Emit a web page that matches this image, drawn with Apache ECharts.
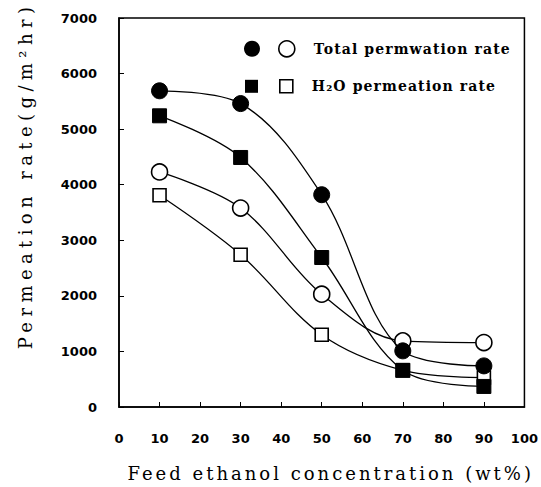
<!DOCTYPE html>
<html>
<head>
<meta charset="utf-8">
<script src="https://cdn.jsdelivr.net/npm/echarts@6/dist/echarts.min.js"></script>
<style>
  html, body { margin: 0; padding: 0; background: #fff; }
  #chart { width: 541px; height: 487px; }
</style>
</head>
<body>
<div id="chart"></div>
<script>
// feed ethanol concentration (wt%)
const feedConc = [10, 30, 50, 70, 90]

// permeation rates (g/m2hr)
const totalFilled = [5690, 5460, 3820, 1010, 740]
const totalOpen = [4230, 3580, 2030, 1190, 1160]
const waterFilled = [5240, 4490, 2690, 660, 370]
const waterOpen = [3810, 2740, 1300, 660, 530]

const xTicks = [0, 10, 20, 30, 40, 50, 60, 70, 80, 90, 100]
const yTicks = [0, 1000, 2000, 3000, 4000, 5000, 6000, 7000]

const xName = 'Feed ethanol concentration (wt%)'
const yName = 'Permeation rate(g/m\u00b2hr)'
const totalLabel = 'Total permwation rate'
const waterLabel = 'H\u2082O permeation rate'

const serif = 'DejaVu Serif'
const sans = 'DejaVu Sans'
const toPairs = (vals) => feedConc.map((x, i) => [x, vals[i]])

const myChart = echarts.init(document.getElementById('chart'), null, { renderer: 'svg' })

// 系列的公共样式
const makeSeries = (name, vals, symbol, size, filled) => ({
  name: name,
  type: 'line',
  data: toPairs(vals),
  smooth: 0.35,
  symbol: symbol,
  symbolSize: size,
  showAllSymbol: true,
  lineStyle: { color: '#000', width: 1.3 },
  itemStyle: filled
    ? { color: '#000', borderColor: '#000', borderWidth: 1 }
    : { color: '#fff', borderColor: '#000', borderWidth: 1.6 },
  emphasis: { disabled: true },
  z: filled ? 3 : 2
})

// 图例：每行一个实心 + 一个空心标记，文字跟在空心后面
const legendText = { fontFamily: serif, fontWeight: 'bold', fontSize: 14, color: '#000', padding: [0, 0, 0, 14] }
const makeLegend = (top, left, size, gap, filledName, openName, icon) => ({
  orient: 'horizontal',
  left: left,
  top: top,
  padding: 0,
  itemGap: gap,
  itemWidth: size,
  itemHeight: size,
  selectedMode: false,
  textStyle: legendText,
  formatter: (n) => n === 'totalOpen' ? totalLabel : n === 'waterOpen' ? waterLabel : '',
  data: [
    { name: filledName, icon: icon, itemStyle: { color: '#000', borderWidth: 0 }, textStyle: { padding: 0 } },
    { name: openName, icon: icon, itemStyle: { color: '#fff', borderColor: '#000', borderWidth: 1.6 } }
  ]
})

const option = {
  backgroundColor: '#fff',
  animation: false,
  grid: {
    left: 119,
    right: 14,
    top: 18,
    bottom: 71,
    show: true,
    borderColor: '#000',
    borderWidth: 1.5,
    backgroundColor: 'transparent'
  },
  legend: [
    makeLegend(40, 244, 16, 18, 'totalFilled', 'totalOpen', 'circle'),
    makeLegend(79, 245, 13, 21, 'waterFilled', 'waterOpen', 'rect')
  ],
  xAxis: {
    type: 'value',
    min: 0,
    max: 100,
    interval: 10,
    name: xName,
    nameLocation: 'middle',
    nameGap: 57,
    nameTextStyle: { fontFamily: serif, fontSize: 18, color: '#000', padding: [0, 0, 0, 18] },
    axisLine: { lineStyle: { color: '#000', width: 1.5 } },
    axisTick: { inside: true, length: 5, lineStyle: { color: '#000' } },
    axisLabel: {
      margin: 25,
      fontFamily: sans,
      fontWeight: 'bold',
      fontSize: 13,
      color: '#000',
      formatter: (v) => xTicks.includes(v) ? String(v) : ''
    },
    splitLine: { show: false }
  },
  yAxis: {
    type: 'value',
    min: 0,
    max: 7000,
    interval: 1000,
    name: yName,
    nameLocation: 'middle',
    nameGap: 85,
    nameTextStyle: { fontFamily: serif, fontSize: 18, color: '#000', padding: [0, 0, 0, 74] },
    axisLine: { lineStyle: { color: '#000', width: 1.5 } },
    axisTick: { inside: true, length: 5, lineStyle: { color: '#000' } },
    axisLabel: {
      margin: 22,
      fontFamily: sans,
      fontWeight: 'bold',
      fontSize: 13,
      color: '#000',
      formatter: (v) => yTicks.includes(v) ? String(v) : ''
    },
    splitLine: { show: false }
  },
  series: [
    makeSeries('totalOpen', totalOpen, 'circle', 16, false),
    makeSeries('waterOpen', waterOpen, 'rect', 13, false),
    makeSeries('totalFilled', totalFilled, 'circle', 16, true),
    makeSeries('waterFilled', waterFilled, 'rect', 14, true)
  ]
}

myChart.setOption(option)

// 原图文字字距较宽，用 letter-spacing 模拟
const spacing = { [xName]: '3px', [yName]: '5.4px', [totalLabel]: '1.1px', [waterLabel]: '1.1px' }
document.querySelectorAll('#chart text').forEach((t) => {
  const s = spacing[t.textContent]
  if (s) t.style.letterSpacing = s
})
</script>
</body>
</html>
